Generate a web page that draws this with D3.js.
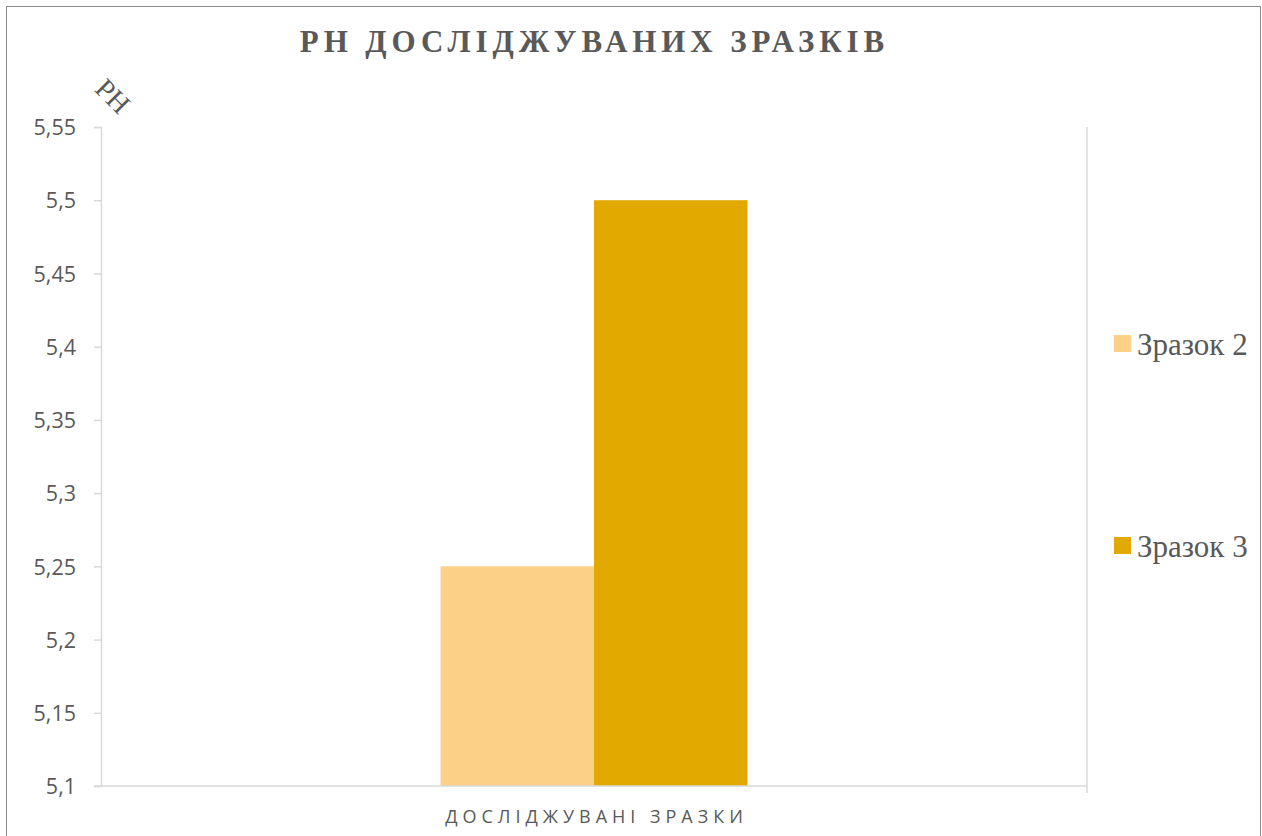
<!DOCTYPE html>
<html>
<head>
<meta charset="utf-8">
<script src="https://cdn.jsdelivr.net/npm/d3@7"></script>
<style>
  body { margin: 0; background: #fff; }
  svg { display: block; }
</style>
</head>
<body>
<script>
(function(){

//chart data
var categories = ["ДОСЛІДЖУВАНІ ЗРАЗКИ"];
var seriesNames = ["Зразок 2", "Зразок 3"];
var seriesValues = [5.25, 5.5];
var seriesColors = ["#FDD088", "#E2AA00"];
var yTicks = [5.1, 5.15, 5.2, 5.25, 5.3, 5.35, 5.4, 5.45, 5.5, 5.55];

window.onload = drawChart();

function drawChart() {
    var width = 1262,
        height = 836;

    var svg = d3.select("body")
        .append("svg")
        .attr("width", width)
        .attr("height", height);

    //outer frame
    svg.append("rect")
        .attr("x", 6.5)
        .attr("y", 6.5)
        .attr("width", 1254)
        .attr("height", 840)
        .attr("fill", "none")
        .attr("stroke", "#8c8c8c")
        .attr("stroke-width", 1);

    var plot = { left: 101, right: 1087, top: 127, bottom: 786 };

    var y = d3.scaleLinear()
        .domain([5.1, 5.55])
        .range([plot.bottom, plot.top]);

    var x0 = d3.scaleBand()
        .domain(categories)
        .range([plot.left, plot.right])
        .paddingInner(0)
        .paddingOuter(1.106);

    var x1 = d3.scaleBand()
        .domain(seriesNames)
        .range([0, x0.bandwidth()]);

    //y axis
    var yAxis = d3.axisLeft(y)
        .tickValues(yTicks)
        .tickSize(7)
        .tickPadding(18)
        .tickFormat(function(d){ return String(+d.toFixed(2)).replace(".", ","); });

    var gy = svg.append("g")
        .attr("transform", "translate(" + plot.left + ",0)")
        .call(yAxis);
    gy.select(".domain").attr("stroke", "#d9d9d9").attr("stroke-width", 1.5);
    gy.selectAll(".tick line").attr("stroke", "#d9d9d9").attr("stroke-width", 1.5);
    gy.selectAll(".tick text")
        .attr("dy", "0.36em")
        .attr("font-family", "'Open Sans', sans-serif")
        .attr("font-size", 21.5)
        .attr("fill", "#595959");

    //right boundary line
    svg.append("line")
        .attr("x1", plot.right).attr("x2", plot.right)
        .attr("y1", plot.top).attr("y2", plot.bottom + 7)
        .attr("stroke", "#d9d9d9")
        .attr("stroke-width", 1.5);

    //bars
    svg.selectAll(".bar")
        .data(seriesValues)
        .enter()
        .append("rect")
        .attr("class", "bar")
        .attr("x", function(d, i){ return x0(categories[0]) + x1(seriesNames[i]); })
        .attr("width", x1.bandwidth())
        .attr("y", function(d){ return y(d); })
        .attr("height", function(d){ return plot.bottom - y(d); })
        .attr("fill", function(d, i){ return seriesColors[i]; });

    //x axis line
    svg.append("line")
        .attr("x1", plot.left - 7).attr("x2", plot.right)
        .attr("y1", plot.bottom).attr("y2", plot.bottom)
        .attr("stroke", "#d9d9d9")
        .attr("stroke-width", 1.5);

    //category label
    svg.append("text")
        .attr("x", x0(categories[0]) + x0.bandwidth() / 2 + 2.5)
        .attr("y", 823)
        .attr("text-anchor", "middle")
        .style("font-family", "'Open Sans', sans-serif")
        .style("font-size", "18px")
        .style("letter-spacing", "5px")
        .style("fill", "#595959")
        .text(categories[0]);

    //title
    svg.append("text")
        .attr("x", 594.5)
        .attr("y", 52)
        .attr("text-anchor", "middle")
        .style("font-family", "'Liberation Serif', serif")
        .style("font-size", "31px")
        .style("font-weight", "bold")
        .style("letter-spacing", "4.9px")
        .style("fill", "#595959")
        .text("РН ДОСЛІДЖУВАНИХ ЗРАЗКІВ");

    //y axis title, rotated
    svg.append("text")
        .attr("transform", "translate(113,96) rotate(45)")
        .attr("text-anchor", "middle")
        .attr("dy", "0.35em")
        .style("font-family", "'Liberation Serif', serif")
        .style("font-size", "28px")
        .style("fill", "#595959")
        .text("РН");

    //legend
    var legendY = [335, 537];
    var legend = svg.selectAll(".legend")
        .data(seriesNames)
        .enter()
        .append("g")
        .attr("class", "legend")
        .attr("transform", function(d, i){ return "translate(1114," + legendY[i] + ")"; });

    legend.append("rect")
        .attr("x", 0)
        .attr("y", 0)
        .attr("width", 17)
        .attr("height", 17)
        .attr("fill", function(d, i){ return seriesColors[i]; });

    legend.append("text")
        .attr("x", 23)
        .attr("y", 20)
        .style("font-family", "'Liberation Serif', serif")
        .style("font-size", "31px")
        .style("fill", "#595959")
        .text(function(d){ return d; });
}

})();
</script>
</body>
</html>
